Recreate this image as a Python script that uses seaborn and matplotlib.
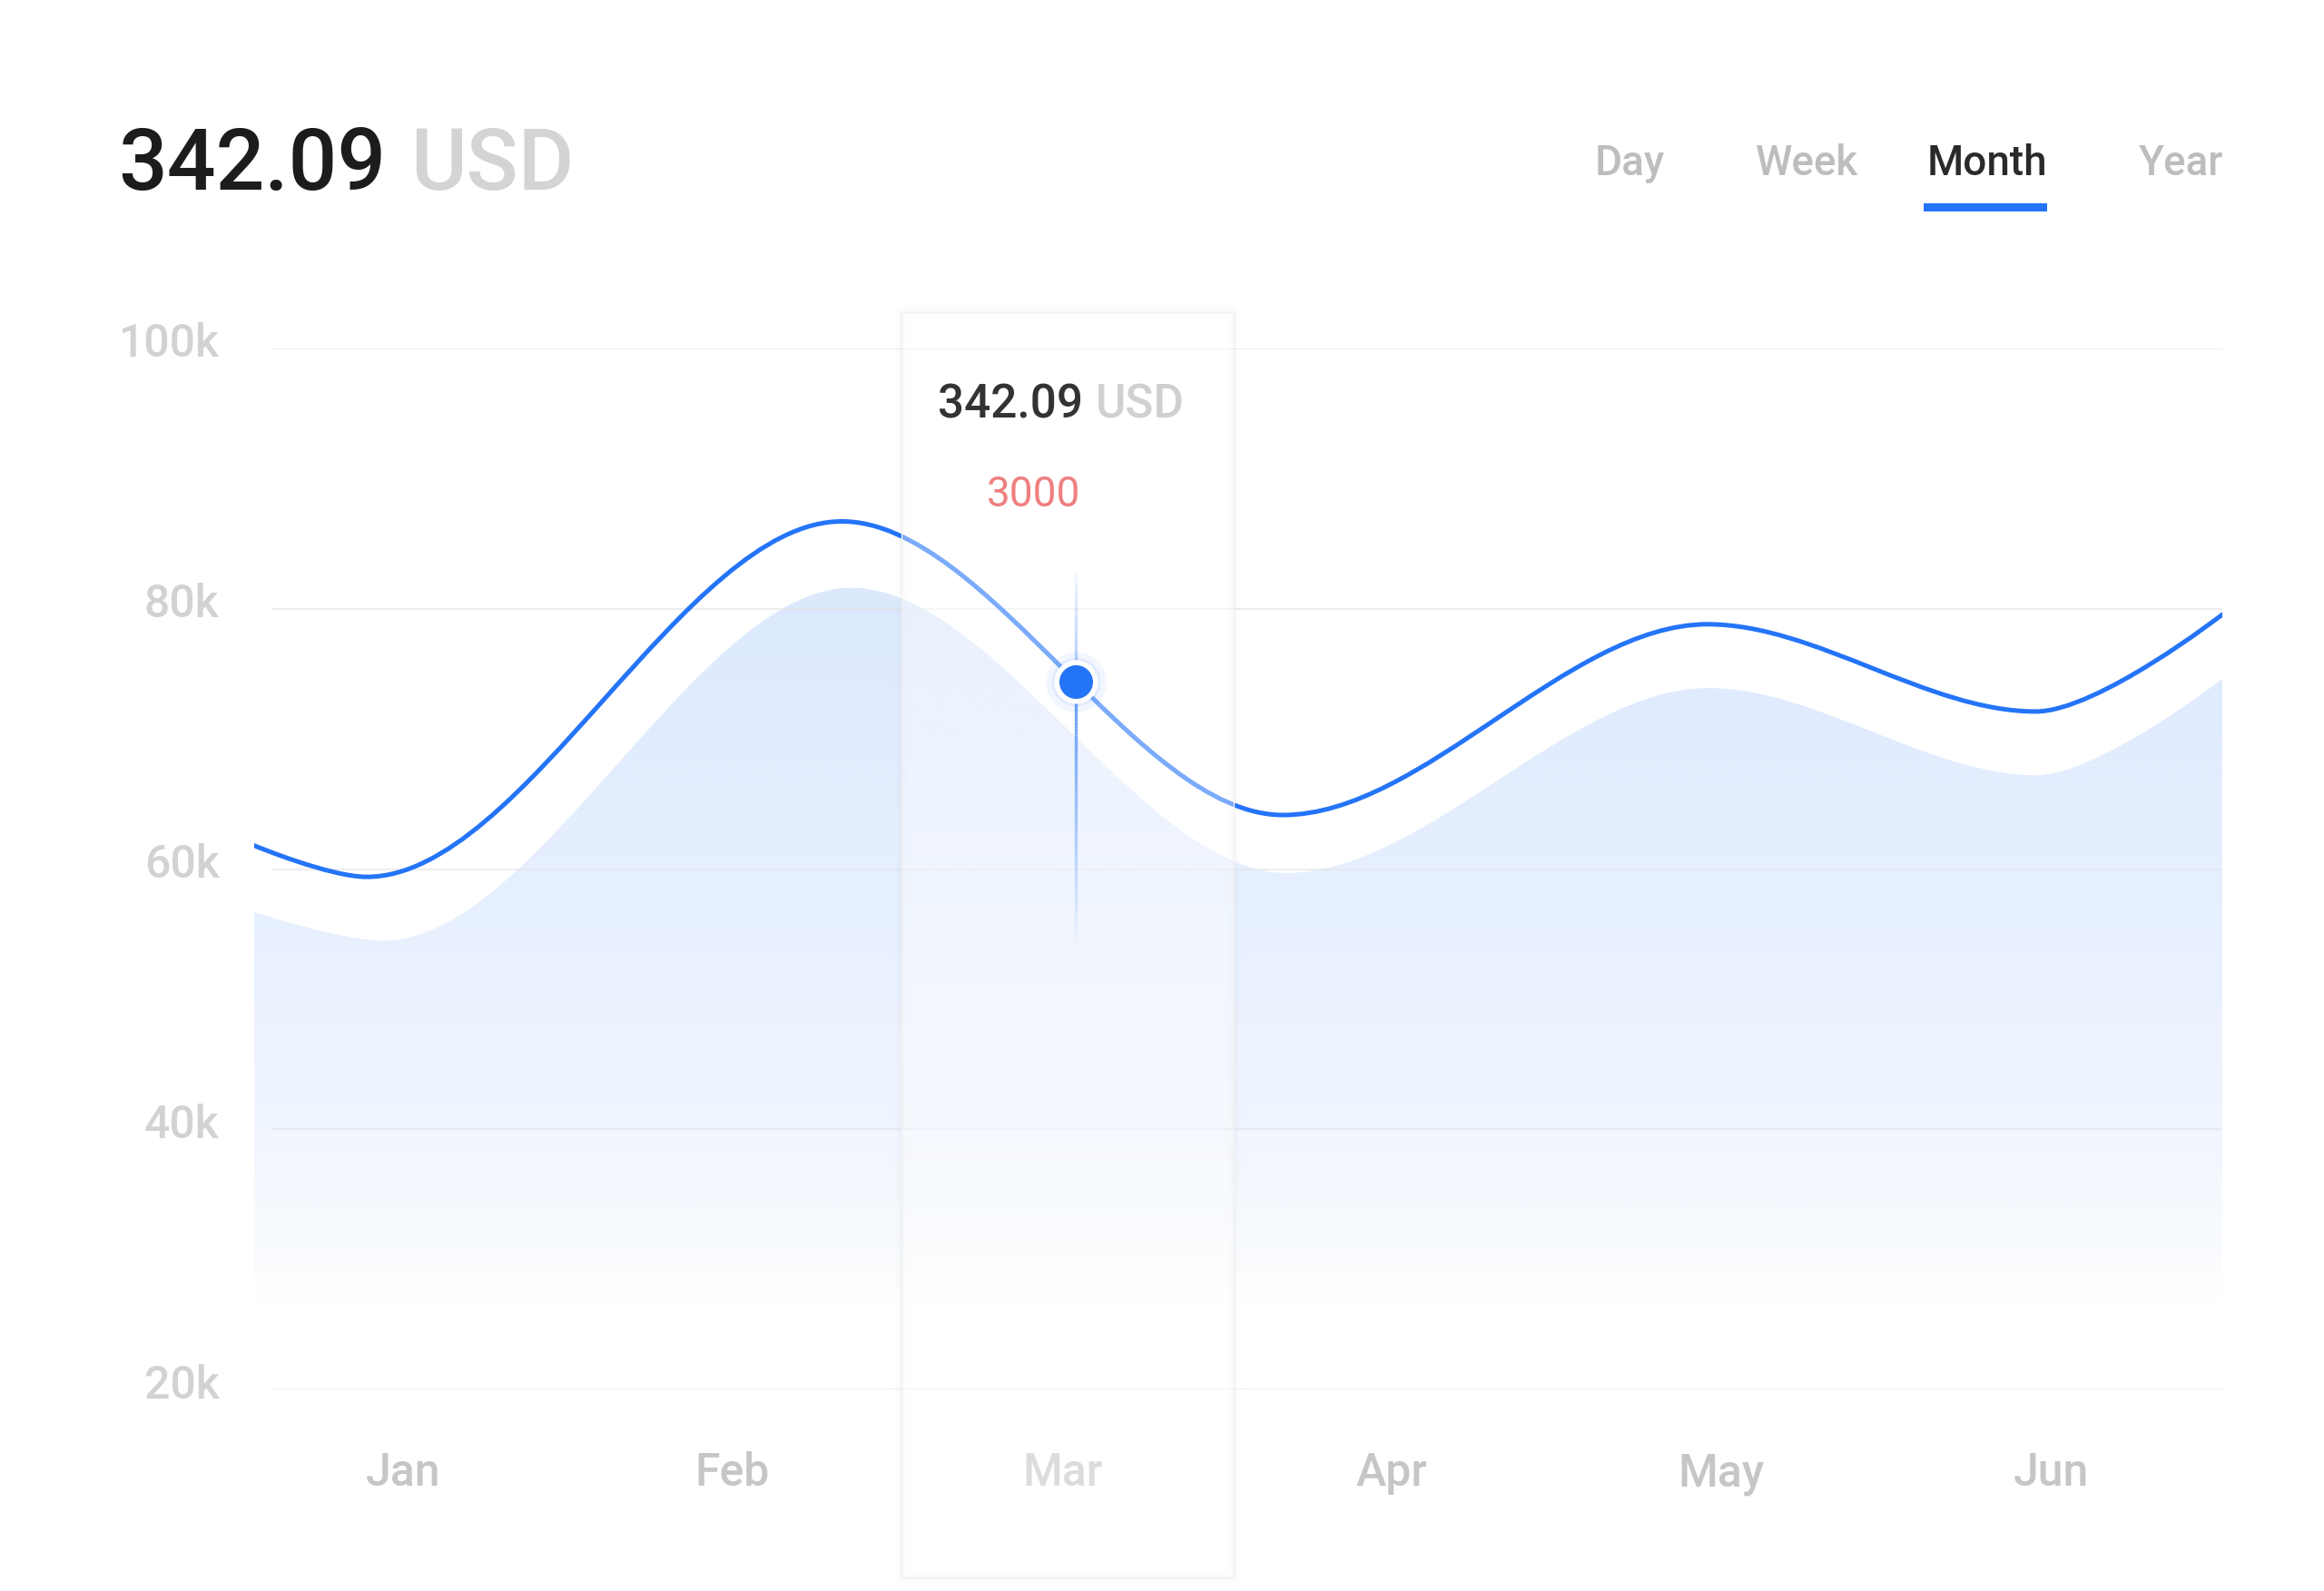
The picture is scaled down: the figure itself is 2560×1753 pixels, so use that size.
import numpy as np
import pandas as pd
import matplotlib
matplotlib.use('Agg')
import matplotlib.pyplot as plt
import seaborn as sns
from matplotlib.path import Path
from matplotlib.patches import PathPatch, Rectangle
from matplotlib.collections import LineCollection
from matplotlib.transforms import ScaledTranslation
from matplotlib.colors import to_rgb

# 数据
months = ['Jan', 'Feb', 'Mar', 'Apr', 'May', 'Jun']
# 折线的转折点, x 以月份为单位 (Jan = 0)
line_x = [-0.451, -0.110, 1.331, 2.669, 3.957, 4.953, 5.519]
line_y = [61800, 59400, 86700, 64150, 78800, 72100, 79550]
# 下方渐变面积的转折点
area_x = [-0.451, -0.060, 1.360, 2.680, 3.960, 4.955, 5.519]
area_y = [56700, 54500, 81600, 59700, 73900, 67200, 74600]
y_ticks = [20000, 40000, 60000, 80000, 100000]
y_labels = ['20k', '40k', '60k', '80k', '100k']
tabs = ['Day', 'Week', 'Month', 'Year']
active_tab = 'Month'
total_value = '342.09'
currency = 'USD'
hover_month = 'Mar'
hover_x = 2.041
hover_y = 74400
hover_change = '3000'

BLUE = '#2474f8'

sns.set_theme(style='white')
plt.rcParams['font.family'] = ['Roboto', 'DejaVu Sans']

fig = plt.figure(figsize=(25.6, 17.53), dpi=100)
fig.patch.set_facecolor('white')

# 参考图的版面坐标 (1568 宽) 换算成 figure 比例
SW, SH = 1568, 1753 * 1568 / 2560
def fx(x):
    return x / SW
def fy(y):
    return 1 - y / SH

ax = fig.add_axes([fx(171.6), fy(938), fx(1499.4) - fx(171.6), fy(235) - fy(938)])
ax.set_facecolor('none')


def smooth_path(xs, ys, handle=0.33, close_at=None):
    # 三次贝塞尔, 转折点处切线水平
    verts = [(xs[0], ys[0])]
    codes = [Path.MOVETO]
    n = len(xs)
    for i in range(n - 1):
        dx = xs[i + 1] - xs[i]
        c1 = (xs[i] + handle * dx, ys[i]) if i > 0 else (xs[i], ys[i])
        c2 = (xs[i + 1] - handle * dx, ys[i + 1]) if i + 1 < n - 1 else (xs[i + 1], ys[i + 1])
        verts += [c1, c2, (xs[i + 1], ys[i + 1])]
        codes += [Path.CURVE4] * 3
    if close_at is not None:
        verts += [(xs[-1], close_at), (xs[0], close_at), (xs[0], ys[0])]
        codes += [Path.LINETO, Path.LINETO, Path.CLOSEPOLY]
    return Path(verts, codes)


# 渐变面积
rgb = to_rgb(BLUE)
grad_vals = np.linspace(20000, 100000, 600)
grad_alpha = np.interp(grad_vals, [26000, 33000, 40000, 50000, 86000],
                       [0.0, 0.04, 0.07, 0.095, 0.17])
img = np.zeros((len(grad_vals), 1, 4))
img[:, 0, :3] = rgb
img[:, 0, 3] = grad_alpha
im = ax.imshow(img, extent=[line_x[0], line_x[-1], 20000, 100000], origin='lower',
               aspect='auto', interpolation='bilinear', zorder=1)
area_patch = PathPatch(smooth_path(area_x, area_y, close_at=20000),
                       facecolor='none', edgecolor='none', transform=ax.transData)
ax.add_patch(area_patch)
im.set_clip_path(area_patch)

# 网格线
ax.hlines(y_ticks, -0.40, line_x[-1], colors='#e2e2e2', lw=1.5, alpha=0.6, zorder=2)

# 主折线
ax.add_patch(PathPatch(smooth_path(line_x, line_y), fill=False, edgecolor=BLUE,
                       lw=3.6, capstyle='round', zorder=3))

# 悬停高亮带
mi = months.index(hover_month)
band = dict(xy=(mi - 0.489, -0.18), width=1.009, height=1.2146,
            transform=ax.get_xaxis_transform(), clip_on=False)
for lw, a in [(12, 0.005), (7, 0.007), (3.5, 0.01)]:
    ax.add_patch(Rectangle(fill=False, edgecolor=(0, 0, 0, a), lw=lw, zorder=3.5, **band))
ax.add_patch(Rectangle(facecolor='white', alpha=0.4, edgecolor='none', zorder=4, **band))
ax.add_patch(Rectangle(fill=False, edgecolor='#f1f1f1', lw=1.0, zorder=4.1, **band))

# 十字准线 (渐变)
n = 80
top = np.linspace(hover_y + 8300, hover_y, n + 1)
bot = np.linspace(hover_y, hover_y - 20500, n + 1)
segs, cols = [], []
for ys, a0, a1 in [(top, 0.05, 0.4), (bot, 0.75, 0.0)]:
    alphas = np.linspace(a0, a1, n)
    for k in range(n):
        segs.append([(hover_x, ys[k]), (hover_x, ys[k + 1])])
        cols.append((*rgb, alphas[k]))
ax.add_collection(LineCollection(segs, colors=cols, linewidths=2.4, zorder=5))

# 悬停点
hover_df = pd.DataFrame({'pos': [hover_x], 'value': [hover_y]})
sns.scatterplot(data=hover_df, x='pos', y='value', s=2300, color=BLUE, alpha=0.06,
                linewidth=0, ax=ax, zorder=6, legend=False)
sns.scatterplot(data=hover_df, x='pos', y='value', s=1500, color=BLUE, alpha=0.08,
                linewidth=0, ax=ax, zorder=6, legend=False)
sns.scatterplot(data=hover_df, x='pos', y='value', s=940, color=BLUE, edgecolor='white',
                linewidth=4, ax=ax, zorder=7, legend=False)

# 坐标轴
ax.set_xlim(line_x[0], line_x[-1])
ax.set_ylim(20000, 100000)
ax.set_xlabel('')
ax.set_ylabel('')
for s in ax.spines.values():
    s.set_visible(False)
ax.set_xticks(range(len(months)))
ax.set_xticklabels(months, fontweight='medium')
ax.set_yticks(y_ticks)
ax.set_yticklabels(y_labels, fontweight='medium')
ax.tick_params(axis='x', length=0, pad=0, labelsize=36, labelcolor='#c6c6c6')
ax.tick_params(axis='y', length=0, pad=27.8, labelsize=36, labelcolor='#d2d2d2')
for lab in ax.get_xticklabels():
    lab.set_va('baseline')
    lab.set_transform(lab.get_transform() + ScaledTranslation(0, -1.06, fig.dpi_scale_trans))
for lab in ax.get_yticklabels():
    lab.set_va('baseline')
    lab.set_transform(lab.get_transform() + ScaledTranslation(0, -0.098, fig.dpi_scale_trans))

# 提示框文字
fig.text(fx(731), fy(281.8), total_value, fontsize=37, color='#333333',
         fontweight='medium', ha='right', va='baseline', zorder=10)
fig.text(fx(739), fy(281.8), currency, fontsize=37, color='#d0d0d0',
         fontweight='medium', ha='left', va='baseline', zorder=10)
fig.text(fx(697.6), fy(341.8), hover_change, fontsize=33, color='#ef7f7f',
         ha='center', va='baseline', zorder=10)

# 标题
renderer = fig.canvas.get_renderer()
t1 = fig.text(fx(80), fy(128), total_value, fontsize=68, color='#1c1c1c',
              fontweight='medium', ha='left', va='baseline')
bb = t1.get_window_extent(renderer=renderer)
fig.text((bb.x1 + 26) / fig.bbox.width, fy(128), currency, fontsize=68, color='#d4d4d4',
         fontweight='medium', ha='left', va='baseline')

# 时间切换
tab_cx = [1099.6, 1219, 1340.5, 1471.5]
for name, cx in zip(tabs, tab_cx):
    active = name == active_tab
    fig.text(fx(cx), fy(118), name, fontsize=33, ha='center', va='baseline',
             color='#2a2a2a' if active else '#bdbdbd', fontweight='medium')
    if active:
        fig.add_artist(Rectangle((fx(1298), fy(142.8)), fx(1381) - fx(1298), 5.5 / SH,
                                 facecolor=BLUE, edgecolor='none', transform=fig.transFigure))

fig.savefig('out.png', dpi=100, facecolor='white')
